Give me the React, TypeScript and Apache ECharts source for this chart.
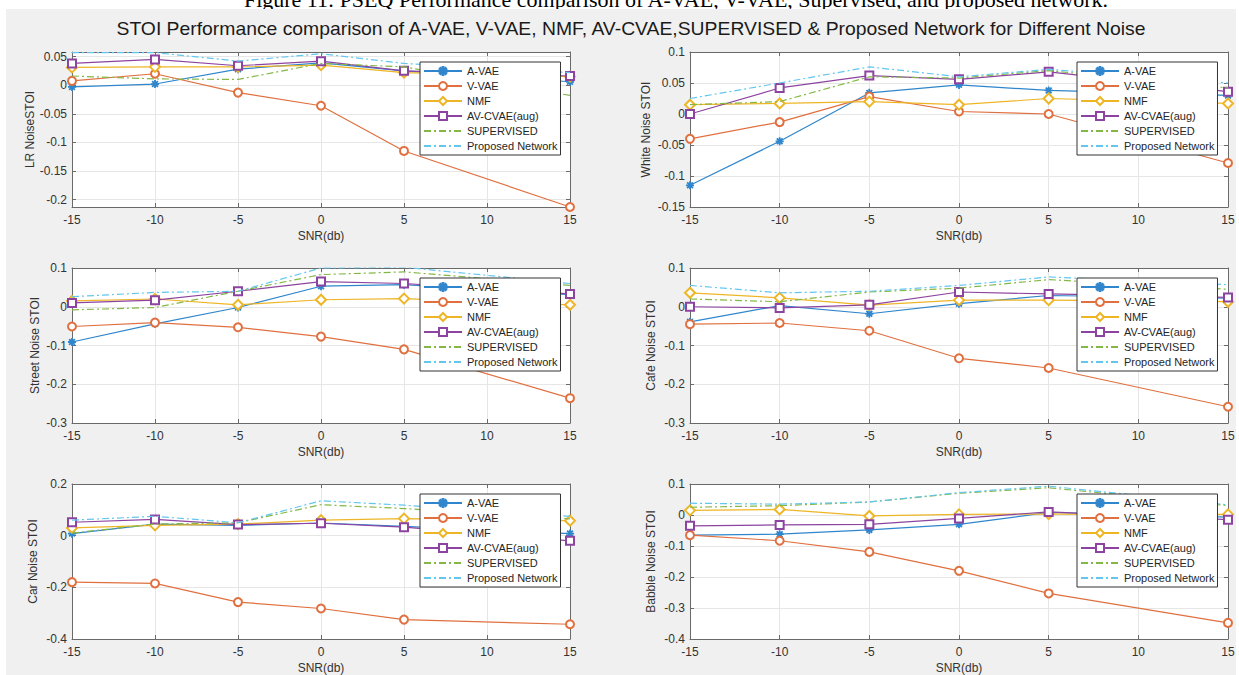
import React, { useEffect, useRef } from "react";
import * as echarts from "echarts";

const SNR = [-15, -10, -5, 0, 5, 15];
const SERIES_NAMES = ["A-VAE", "V-VAE", "NMF", "AV-CVAE(aug)", "SUPERVISED", "Proposed Network"];

const PLOT_TITLES = ["LR NoiseSTOI", "White Noise STOI", "Street Noise STOI", "Cafe Noise STOI", "Car Noise STOI", "Babble Noise STOI"];

// values per plot, rows in SERIES_NAMES order, columns in SNR order
const lrValues = [
  [-0.003, 0.002, 0.028, 0.039, 0.025, 0.006],
  [0.0075, 0.02, -0.013, -0.036, -0.115, -0.213],
  [0.031, 0.032, 0.032, 0.035, 0.022, 0.015],
  [0.038, 0.045, 0.034, 0.042, 0.025, 0.016],
  [0.016, 0.011, 0.01, 0.038, 0.032, -0.018],
  [0.057, 0.057, 0.042, 0.055, 0.038, 0.022],
];
const whiteValues = [
  [-0.115, -0.044, 0.034, 0.047, 0.038, 0.03],
  [-0.04, -0.013, 0.028, 0.004, 0.0, -0.079],
  [0.015, 0.017, 0.02, 0.015, 0.025, 0.017],
  [0.0, 0.042, 0.062, 0.056, 0.068, 0.036],
  [0.015, 0.02, 0.06, 0.058, 0.07, 0.042],
  [0.025, 0.05, 0.076, 0.06, 0.072, 0.05],
];
const streetValues = [
  [-0.091, -0.044, -0.002, 0.053, 0.057, 0.031],
  [-0.051, -0.041, -0.053, -0.077, -0.11, -0.236],
  [0.015, 0.02, 0.005, 0.018, 0.021, 0.005],
  [0.01, 0.017, 0.04, 0.065, 0.06, 0.033],
  [-0.008, -0.002, 0.04, 0.083, 0.09, 0.055],
  [0.026, 0.037, 0.04, 0.1, 0.102, 0.06],
];
const cafeValues = [
  [-0.039, 0.003, -0.018, 0.008, 0.029, 0.022],
  [-0.045, -0.042, -0.062, -0.133, -0.158, -0.258],
  [0.036, 0.023, 0.004, 0.017, 0.017, 0.013],
  [0.0, -0.003, 0.005, 0.038, 0.033, 0.024],
  [0.02, 0.013, 0.038, 0.048, 0.07, 0.045],
  [0.055, 0.036, 0.04, 0.055, 0.077, 0.057],
];
const carValues = [
  [0.008, 0.045, 0.04, 0.049, 0.036, 0.008],
  [-0.18, -0.185, -0.257, -0.282, -0.325, -0.343],
  [0.03, 0.04, 0.045, 0.06, 0.066, 0.058],
  [0.052, 0.063, 0.043, 0.048, 0.033, -0.02],
  [0.01, 0.045, 0.05, 0.12, 0.105, 0.065],
  [0.06, 0.075, 0.05, 0.135, 0.118, 0.075],
];
const babbleValues = [
  [-0.065, -0.062, -0.048, -0.03, 0.008, -0.007],
  [-0.065, -0.083, -0.119, -0.18, -0.253, -0.348],
  [0.015, 0.018, -0.003, 0.002, 0.003, 0.002],
  [-0.035, -0.032, -0.03, -0.011, 0.01, -0.015],
  [0.025, 0.03, 0.042, 0.07, 0.088, 0.03],
  [0.038, 0.035, 0.042, 0.072, 0.093, 0.033],
];

const lrTicks = [-0.2, -0.15, -0.1, -0.05, 0, 0.05];
const whiteTicks = [-0.15, -0.1, -0.05, 0, 0.05, 0.1];
const streetTicks = [-0.3, -0.2, -0.1, 0, 0.1];
const cafeTicks = [-0.3, -0.2, -0.1, 0, 0.1];
const carTicks = [-0.4, -0.2, 0, 0.2];
const babbleTicks = [-0.4, -0.3, -0.2, -0.1, 0, 0.1];

const Y_RANGES = [
  [-0.213, 0.058],
  [-0.15, 0.1],
  [-0.3, 0.1],
  [-0.3, 0.1],
  [-0.4, 0.2],
  [-0.4, 0.1],
];

const ALL_VALUES = [lrValues, whiteValues, streetValues, cafeValues, carValues, babbleValues];
const ALL_TICKS = [lrTicks, whiteTicks, streetTicks, cafeTicks, carTicks, babbleTicks];

const FONT = "'Liberation Sans', Arial, Helvetica, sans-serif";
const COLORS = ["#2f86cc", "#e0703f", "#eeb626", "#8d44a0", "#84b846", "#62c6ef"];
const ASTERISK =
  "path://M4.5,0h1v10h-1z M0,4.5h10v1h-10z M1.1,1.8l0.7,-0.7 7.1,7.1 -0.7,0.7z M8.2,1.1l0.7,0.7 -7.1,7.1 -0.7,-0.7z";
const SYMBOLS = [ASTERISK, "emptyCircle", "emptyDiamond", "emptyRect", "circle", "circle"];
const SYMBOL_SIZES = [7, 8, 10, 8, 0, 0];

const COL_LEFT = [72, 690];
const COL_WIDTH = [498, 538];
const ROW_TOP = [52, 268, 484];
const PLOT_H = 155;
const LEGEND_LEFT = [420, 1077];
const NAME_GAP = [34, 38, 31, 33, 33, 33];

export default function App() {
  const ref = useRef<HTMLDivElement>(null);

  useEffect(() => {
    if (!ref.current) return;
    document.body.style.margin = "0";
    const chart = echarts.init(ref.current, null, { renderer: "svg" });

    const grids: any[] = [];
    const xAxes: any[] = [];
    const yAxes: any[] = [];
    const series: any[] = [];
    const legends: any[] = [];

    for (let i = 0; i < 6; i++) {
      const col = i % 2;
      const row = Math.floor(i / 2);
      const top = ROW_TOP[row];
      grids.push({
        left: COL_LEFT[col],
        top,
        width: COL_WIDTH[col],
        height: PLOT_H,
        show: true,
        backgroundColor: "#ffffff",
        borderWidth: 0,
      });
      const axisLine = { show: true, onZero: false, lineStyle: { color: "#6a6a6a", width: 1 } };
      xAxes.push({
        type: "value",
        gridIndex: i,
        position: "bottom",
        min: -15,
        max: 15,
        interval: 5,
        axisLine,
        axisTick: { show: true, inside: true, length: 4, lineStyle: { color: "#6a6a6a" } },
        axisLabel: { color: "#333", fontFamily: FONT, fontSize: 12, margin: 7 },
        splitLine: { show: true, lineStyle: { color: "#e6e6e6", width: 1 } },
        name: "SNR(db)",
        nameLocation: "middle",
        nameGap: 23,
        nameTextStyle: { color: "#333", fontFamily: FONT, fontSize: 12 },
      });
      xAxes.push({
        type: "value",
        gridIndex: i,
        position: "top",
        min: -15,
        max: 15,
        interval: 5,
        axisLine,
        axisTick: { show: true, inside: true, length: 4, lineStyle: { color: "#6a6a6a" } },
        axisLabel: { show: false },
        splitLine: { show: false },
      });
      const ticks = ALL_TICKS[i];
      yAxes.push({
        type: "value",
        gridIndex: i,
        position: "left",
        min: Y_RANGES[i][0],
        max: Y_RANGES[i][1],
        axisLine,
        axisTick: { show: true, inside: true, length: 4, customValues: ticks, lineStyle: { color: "#6a6a6a" } },
        axisLabel: {
          color: "#333",
          fontFamily: FONT,
          fontSize: 12,
          margin: 5,
          customValues: ticks,
          formatter: (v: number) => String(parseFloat(v.toFixed(3))),
        },
        splitLine: { show: true, lineStyle: { color: "#e6e6e6", width: 1 } },
        name: PLOT_TITLES[i],
        nameLocation: "middle",
        nameGap: NAME_GAP[i],
        nameTextStyle: { color: "#333", fontFamily: FONT, fontSize: 12 },
      });
      yAxes.push({
        type: "value",
        gridIndex: i,
        position: "right",
        min: Y_RANGES[i][0],
        max: Y_RANGES[i][1],
        axisLine,
        axisTick: { show: true, inside: true, length: 4, customValues: ticks, lineStyle: { color: "#6a6a6a" } },
        axisLabel: { show: false, customValues: ticks },
        splitLine: { show: false },
      });

      const vals = ALL_VALUES[i];
      for (let s = 0; s < SERIES_NAMES.length; s++) {
        const dashed = s >= 4;
        series.push({
          type: "line",
          name: SERIES_NAMES[s],
          xAxisIndex: i * 2,
          yAxisIndex: i * 2,
          data: SNR.map((x, k) => [x, vals[s][k]]),
          symbol: SYMBOLS[s],
          symbolSize: SYMBOL_SIZES[s],
          showSymbol: !dashed,
          clip: true,
          z: 2 + s * 0.01,
          lineStyle: {
            color: COLORS[s],
            width: 1.2,
            type: dashed ? [7, 3, 2, 3] : "solid",
          },
          itemStyle: { color: COLORS[s], borderColor: COLORS[s], borderWidth: 1.1 },
          emphasis: { disabled: true },
        });
      }

      legends.push({
        data: SERIES_NAMES.map((n, s) =>
          s >= 4 ? { name: n, itemStyle: { opacity: 0 } } : { name: n }
        ),
        orient: "vertical",
        left: LEGEND_LEFT[col],
        top: top + 10,
        itemWidth: 38,
        itemHeight: 10,
        itemGap: 1,
        padding: [2, 3, 2, 3],
        backgroundColor: "#ffffff",
        borderColor: "#333",
        borderWidth: 1,
        borderRadius: 0,
        selectedMode: false,
        textStyle: { color: "#262626", fontFamily: FONT, fontSize: 11, lineHeight: 14 },
      });
    }

    chart.setOption({
      animation: false,
      backgroundColor: "#ffffff",
      grid: grids,
      xAxis: xAxes,
      yAxis: yAxes,
      series,
      legend: legends,
      tooltip: { show: false },
      graphic: [
        {
          type: "text",
          z: -10,
          x: 676,
          y: 10,
          style: {
            text: "Figure 11: PSEQ Performance comparison of A-VAE, V-VAE, Supervised, and proposed network.",
            fill: "#000",
            font: "22px 'Liberation Serif', 'Times New Roman', serif",
            textAlign: "center",
            textVerticalAlign: "bottom",
          },
        },
        {
          type: "rect",
          z: -5,
          shape: { x: 6, y: 9, width: 1230, height: 666 },
          style: { fill: "#f0f0f0" },
        },
        {
          type: "text",
          z: 10,
          x: 631,
          y: 29,
          scaleX: 1.075,
          style: {
            text: "STOI Performance comparison of A-VAE, V-VAE, NMF, AV-CVAE,SUPERVISED & Proposed Network for Different Noise",
            fill: "#1a1a1a",
            font: "18px 'Liberation Sans', Arial, sans-serif",
            textAlign: "center",
            textVerticalAlign: "middle",
          },
        },
      ],
    });

    return () => chart.dispose();
  }, []);

  return (
    <div
      ref={ref}
      style={{ position: "fixed", left: 0, top: 0, width: 1239, height: 675 }}
    />
  );
}
